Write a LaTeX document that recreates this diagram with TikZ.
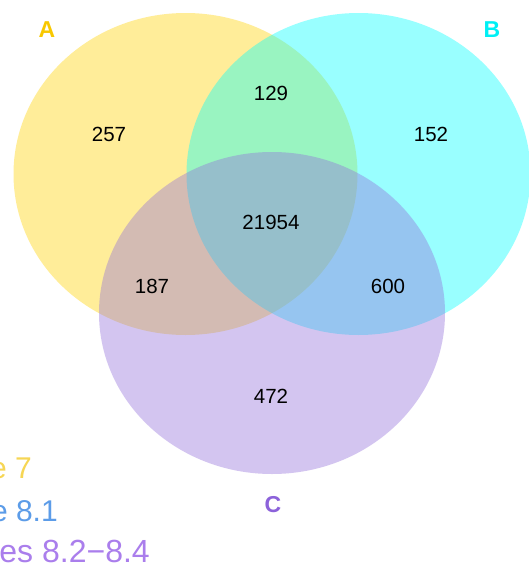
\documentclass[tikz,border=0pt]{standalone}
\usepackage{fontspec}
\setmainfont{Liberation Sans}
\definecolor{vA}{RGB}{255,212,0}
\definecolor{vB}{RGB}{0,255,255}
\definecolor{vC}{RGB}{147,112,219}
\definecolor{labA}{RGB}{248,200,0}
\definecolor{labB}{RGB}{0,240,245}
\definecolor{labC}{RGB}{140,98,218}
\definecolor{legA}{RGB}{246,214,84}
\definecolor{legB}{RGB}{92,156,232}
\definecolor{legC}{RGB}{170,126,236}
\tikzset{
  setfill/.style={fill=#1, fill opacity=0.4, draw=none},
  count/.style={font=\fontsize{20.5}{24}\selectfont, text=black, inner sep=0pt},
  setlabel/.style={font=\fontsize{23}{27}\selectfont\bfseries, text=#1, inner sep=0pt},
  legend/.style={font=\fontsize{30}{34}\selectfont, text=#1, inner sep=0pt, anchor=base east}
}
\begin{document}
\begin{tikzpicture}[x=1pt,y=-1pt]
\useasboundingbox (0,0) rectangle (529,568);
\clip (0,0) rectangle (529,568);
\fill[white] (0,0) rectangle (529,568);
% sets
\path[setfill=vA] (185.5,174) ellipse [x radius=172, y radius=161];
\path[setfill=vB] (358.5,174) ellipse [x radius=172, y radius=161];
\path[setfill=vC] (272,313) ellipse [x radius=173, y radius=161];
% counts
\node[count] (nA) at (109,134) {257};
\node[count] (nAB) at (271,93) {129};
\node[count] (nB) at (431,134) {152};
\node[count] (nABC) at (271,222) {21954};
\node[count] (nAC) at (152,286) {187};
\node[count] (nBC) at (388,286) {600};
\node[count] (nC) at (271,396) {472};
% set labels
\node[setlabel=labA] (lA) at (47,30) {A};
\node[setlabel=labB] (lB) at (492,30) {B};
\node[setlabel=labC] (lC) at (273,505) {C};
% legend (cut off at the left edge)
\node[legend=legA] (g1) at (32,478) {e 7};
\node[legend=legB] (g2) at (58,521) {e 8.1};
\node[legend=legC, font=\fontsize{32}{36}\selectfont] (g3) at (150,562) {es 8.2\textminus 8.4};
\end{tikzpicture}
\end{document}
